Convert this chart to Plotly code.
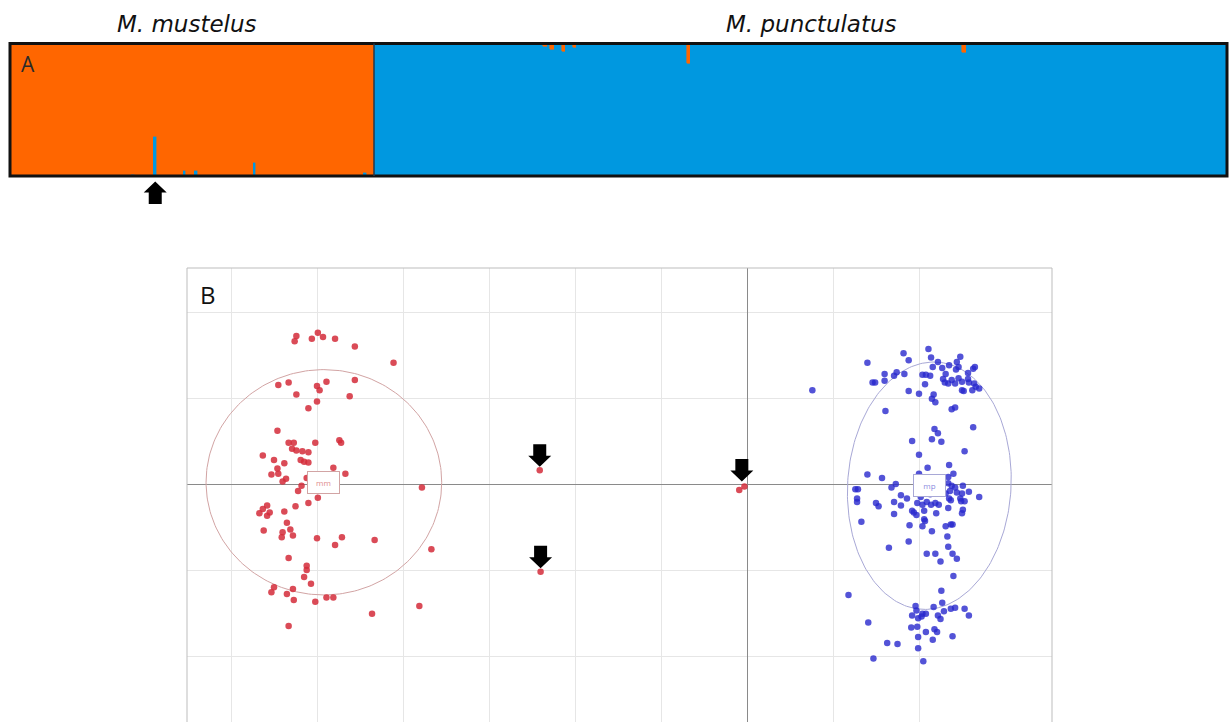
import numpy as np
import plotly.graph_objects as go

W, H = 1229, 722

# ---------------- Panel A: STRUCTURE-style membership bars ----------------
# Share of the M. punctulatus cluster in each M. mustelus individual
mustelus_q = [
    0, 0, 0, 0, 0, 0, 0, 0, 0, 0, 0, 0, 0, 0, 0, 0, 0, 0, 0, 0,
    0, 0, 0, 0, 0, 0, 0, 0, 0, 0, 0, 0, 0, 0.015, 0, 0, 0, 0, 0, 0.30,
    0, 0, 0, 0, 0, 0, 0, 0.045, 0, 0, 0.04, 0, 0, 0, 0, 0, 0, 0, 0, 0,
    0, 0, 0, 0, 0, 0, 0.10, 0, 0, 0, 0, 0, 0, 0, 0, 0, 0, 0, 0, 0,
    0, 0, 0, 0, 0, 0, 0, 0, 0, 0, 0, 0, 0, 0, 0, 0, 0.03, 0, 0,
]
# Share of the M. mustelus cluster in each M. punctulatus individual
punctulatus_q = [
    0, 0, 0, 0, 0, 0, 0, 0, 0, 0, 0, 0, 0.01, 0, 0, 0, 0, 0, 0, 0,
    0, 0, 0, 0, 0, 0, 0, 0, 0, 0, 0, 0, 0, 0, 0, 0, 0, 0, 0, 0,
    0, 0, 0, 0, 0, 0, 0.02, 0, 0.045, 0, 0, 0.06, 0, 0, 0.03, 0, 0, 0, 0, 0,
    0, 0, 0, 0, 0, 0, 0, 0, 0, 0, 0, 0, 0, 0, 0, 0, 0, 0, 0, 0,
    0, 0, 0, 0, 0, 0.15, 0, 0, 0, 0, 0, 0, 0, 0, 0, 0, 0, 0, 0, 0,
    0, 0, 0, 0, 0, 0, 0, 0, 0, 0, 0, 0, 0, 0, 0, 0, 0, 0, 0, 0,
    0, 0, 0, 0, 0, 0, 0, 0, 0, 0, 0, 0, 0, 0, 0, 0, 0, 0, 0, 0,
    0, 0, 0, 0, 0, 0, 0, 0, 0, 0, 0, 0.01, 0, 0, 0, 0, 0, 0, 0, 0,
    0.07, 0, 0, 0, 0, 0, 0, 0, 0, 0, 0, 0, 0, 0, 0, 0.01, 0, 0, 0, 0,
    0, 0, 0, 0, 0, 0, 0, 0, 0, 0, 0, 0, 0, 0, 0, 0, 0, 0, 0, 0,
    0, 0, 0, 0, 0, 0, 0, 0, 0, 0, 0, 0, 0, 0, 0, 0, 0, 0, 0, 0,
    0, 0, 0, 0, 0, 0, 0, 0, 0, 0, 0, 0,
]
species_labels = ["M. mustelus", "M. punctulatus"]

# ---------------- Panel B: individual scores on the two axes ----------------
mm_x = [
    -5.24, -5.26, -4.99, -5.06, -4.93, -4.79, -4.56, -4.11, -4.56, -5.45,
    -5.33, -5.00, -4.97, -4.89, -5.24, -4.62, -5.00, -5.10, -5.46, -5.33,
    -5.27, -5.02, -4.74, -4.72, -5.29, -5.24, -5.17, -5.10, -5.63, -5.50,
    -5.38, -5.19, -5.15, -5.10, -5.46, -4.81, -4.67, -5.53, -5.45, -5.36,
    -5.40, -5.12, -3.78, -5.18, -5.22, -4.99, -5.10, -5.25, -5.58, -5.63,
    -5.67, -5.55, -5.58, -5.38, -5.35, -5.62, -5.40, -5.31, -5.41, -5.28,
    -5.00, -4.71, -4.79, -4.33, -3.67, -5.33, -5.12, -5.12, -5.15, -5.07,
    -5.50, -5.53, -5.28, -5.35, -5.27, -5.02, -4.89, -4.81, -3.81, -4.36, -5.33,
]
mm_y = [
    1.72, 1.66, 1.76, 1.69, 1.71, 1.69, 1.60, 1.41, 1.21, 1.15,
    1.18, 1.14, 1.09, 1.19, 1.04, 1.02, 0.96, 0.88, 0.62, 0.48,
    0.48, 0.48, 0.51, 0.48, 0.41, 0.39, 0.38, 0.37, 0.33, 0.28,
    0.24, 0.28, 0.26, 0.25, 0.18, 0.19, 0.12, 0.11, 0.12, 0.06,
    0.03, 0.07, -0.04, -0.02, -0.08, -0.16, -0.22, -0.26, -0.25, -0.29,
    -0.34, -0.33, -0.37, -0.32, -0.45, -0.54, -0.56, -0.53, -0.62, -0.60,
    -0.63, -0.62, -0.71, -0.65, -0.76, -0.86, -0.95, -1.00, -1.08, -1.16,
    -1.20, -1.26, -1.22, -1.28, -1.35, -1.37, -1.32, -1.32, -1.42, -1.51, -1.65,
]
# M. mustelus individuals falling between the two clusters
flag_x = [-2.41, -2.40, -0.09, -0.03]
flag_y = [0.16, -1.02, -0.07, -0.03]
flag_groups = [[0], [1], [2, 3]]

mp_x = [
    0.76, 1.40, 1.82, 1.88, 2.11, 2.14, 2.22, 2.48, 2.44, 2.16,
    2.27, 2.35, 2.46, 2.43, 2.65, 2.63, 1.60, 1.71, 1.74, 1.83,
    2.04, 2.08, 2.13, 2.31, 2.57, 1.46, 1.49, 1.60, 2.07, 2.28,
    2.30, 2.34, 2.38, 2.42, 2.46, 2.50, 2.57, 2.58, 2.64, 2.50,
    2.52, 2.62, 2.70, 2.66, 1.88, 2.00, 2.17, 2.15, 2.19, 1.61,
    2.38, 2.42, 2.63, 2.18, 2.22, 2.15, 2.26, 1.92, 2.53, 2.00,
    2.35, 2.10, 1.40, 1.57, 2.40, 2.34, 2.00, 1.73, 1.68, 2.34,
    2.38, 2.51, 2.42, 1.26, 1.29, 2.58, 2.31, 2.36, 2.44, 2.50,
    1.79, 2.02, 2.13, 1.28, 1.28, 1.50, 1.53, 1.71, 1.79, 1.86,
    1.98, 2.04, 2.09, 2.14, 2.19, 2.23, 2.35, 2.37, 2.48, 2.49,
    2.53, 2.70, 1.92, 1.94, 1.97, 2.06, 2.20, 2.34, 2.51, 2.50,
    1.71, 1.33, 1.89, 2.06, 2.07, 2.31, 2.37, 2.04, 2.39, 2.15,
    2.33, 1.88, 1.65, 2.34, 2.09, 2.19, 2.39, 2.25, 2.44, 2.40,
    1.18, 2.26, 2.27, 1.96, 2.17, 1.97, 2.29, 2.37, 2.42, 2.53,
    2.58, 1.92, 2.04, 2.08, 1.99, 2.03, 2.22, 2.25, 1.41, 1.91,
    1.98, 2.18, 2.21, 2.08, 1.99, 2.16, 2.39, 1.63, 1.75, 1.99,
    1.47, 2.05,
]
mp_y = [
    1.09, 1.41, 1.52, 1.44, 1.57, 1.47, 1.42, 1.48, 1.42, 1.36,
    1.35, 1.38, 1.36, 1.33, 1.36, 1.34, 1.28, 1.26, 1.30, 1.28,
    1.27, 1.27, 1.26, 1.28, 1.29, 1.18, 1.18, 1.20, 1.16, 1.22,
    1.18, 1.17, 1.21, 1.17, 1.23, 1.19, 1.22, 1.18, 1.17, 1.09,
    1.08, 1.09, 1.11, 1.13, 1.08, 1.05, 1.04, 0.99, 0.95, 0.85,
    0.87, 0.89, 0.66, 0.64, 0.59, 0.52, 0.49, 0.50, 0.38, 0.34,
    0.22, 0.19, 0.11, 0.07, 0.12, 0.08, 0.12, 0.00, -0.04, 0.01,
    -0.02, -0.02, -0.04, -0.06, -0.06, -0.09, -0.11, -0.08, -0.10, -0.11,
    -0.13, -0.15, -0.12, -0.17, -0.21, -0.22, -0.26, -0.21, -0.25, -0.17,
    -0.22, -0.24, -0.21, -0.24, -0.22, -0.24, -0.17, -0.19, -0.17, -0.20,
    -0.20, -0.15, -0.31, -0.33, -0.36, -0.31, -0.34, -0.28, -0.30, -0.34,
    -0.35, -0.44, -0.48, -0.41, -0.43, -0.49, -0.47, -0.49, -0.47, -0.55,
    -0.61, -0.67, -0.74, -0.73, -0.81, -0.81, -0.81, -0.90, -0.87, -1.07,
    -1.29, -1.24, -1.38, -1.42, -1.43, -1.47, -1.48, -1.45, -1.44, -1.45,
    -1.53, -1.53, -1.51, -1.51, -1.56, -1.54, -1.53, -1.57, -1.61, -1.67,
    -1.66, -1.69, -1.72, -1.72, -1.78, -1.81, -1.77, -1.85, -1.86, -1.91,
    -2.03, -2.06,
]

# Group centres and inertia ellipses: centre x, centre y, half-width, half-height, tilt (deg)
group_names = ["mm", "mp"]
ellipse_cx = [-4.92, 2.12]
ellipse_cy = [0.02, -0.02]
ellipse_rx = [1.37, 0.95]
ellipse_ry = [1.31, 1.44]
ellipse_tilt = [0.0, -3.7]

ORANGE = "#ff6600"
BLUE = "#0098e0"
RED_PT = "rgba(212,44,58,0.85)"
BLUE_PT = "rgba(40,40,205,0.8)"
ELL_COL = ["#d2a4a4", "#a8a8d6"]
LAB_COL = ["#e08c8c", "#8c8ce0"]

# Layout boxes (paper fractions)
A_X = [10 / W, 1227 / W]
A_Y = [(H - 176) / H, (H - 43.5) / H]
B_X = [187 / W, 1052 / W]
B_Y = [0.0, (H - 268) / H]
UNIT_PX = 86.0  # pixels per grid step in panel B

n_mm, n_mp = len(mustelus_q), len(punctulatus_q)
n_all = n_mm + n_mp
blue_share = list(mustelus_q) + [1 - q for q in punctulatus_q]
orange_share = [1 - b for b in blue_share]
ind = list(range(n_all))

fig = go.Figure()
fig.add_trace(go.Bar(x=ind, y=blue_share, marker=dict(color=BLUE, line=dict(color=BLUE, width=0.6)),
                     xaxis="x2", yaxis="y2", showlegend=False, hoverinfo="skip"))
fig.add_trace(go.Bar(x=ind, y=orange_share, marker=dict(color=ORANGE, line=dict(color=ORANGE, width=0.6)),
                     xaxis="x2", yaxis="y2", showlegend=False, hoverinfo="skip"))

# ellipses
for i in range(2):
    t = np.linspace(0, 2 * np.pi, 241)
    phi = np.deg2rad(ellipse_tilt[i])
    ex = ellipse_rx[i] * np.cos(t)
    ey = ellipse_ry[i] * np.sin(t)
    fig.add_trace(go.Scatter(
        x=ellipse_cx[i] + ex * np.cos(phi) - ey * np.sin(phi),
        y=ellipse_cy[i] + ex * np.sin(phi) + ey * np.cos(phi),
        mode="lines", line=dict(color=ELL_COL[i], width=1),
        showlegend=False, hoverinfo="skip"))

fig.add_trace(go.Scatter(x=mm_x + flag_x, y=mm_y + flag_y, mode="markers",
                         marker=dict(size=6.5, color=RED_PT, line=dict(width=0)),
                         showlegend=False, name="mm"))
fig.add_trace(go.Scatter(x=mp_x, y=mp_y, mode="markers",
                         marker=dict(size=6.5, color=BLUE_PT, line=dict(width=0)),
                         showlegend=False, name="mp"))


def block_arrow(xt, yt, ux, uy, s):
    """Solid block arrow with its tip at (xt, yt); s=+1 body above tip, s=-1 body below."""
    hw, sw, hh, ln = 11.5 * ux, 6.5 * ux, 11 * uy, 22.5 * uy
    pts = [(xt, yt), (xt - hw, yt + s * hh), (xt - sw, yt + s * hh), (xt - sw, yt + s * ln),
           (xt + sw, yt + s * ln), (xt + sw, yt + s * hh), (xt + hw, yt + s * hh)]
    return "M " + " L ".join(f"{x:.5f},{y:.5f}" for x, y in pts) + " Z"


shapes = []
# panel A frame and species divider
shapes.append(dict(type="rect", xref="x2 domain", yref="y2 domain", x0=0, x1=1, y0=0, y1=1,
                   line=dict(color="#111111", width=3), fillcolor="rgba(0,0,0,0)"))
shapes.append(dict(type="line", xref="x2", yref="y2 domain", x0=n_mm - 0.5, x1=n_mm - 0.5, y0=0, y1=1,
                   line=dict(color="#26384a", width=1.5)))

# arrow under the most admixed M. mustelus individual
k = int(np.argmax(mustelus_q))
ax_tip = A_X[0] + (k + 0.5) / n_all * (A_X[1] - A_X[0])
shapes.append(dict(type="path", xref="paper", yref="paper",
                   path=block_arrow(ax_tip, A_Y[0] - 5.5 / H, 1 / W, 1 / H, -1),
                   fillcolor="black", line=dict(width=0)))

# arrows over the intermediate individuals in panel B
u = 1 / UNIT_PX
for grp in flag_groups:
    gx = float(np.mean([flag_x[j] for j in grp]))
    gy = max(flag_y[j] for j in grp) + (3.5 if len(grp) == 1 else 5.0) * u
    shapes.append(dict(type="path", xref="x", yref="y", path=block_arrow(gx, gy, u, u, 1),
                       fillcolor="black", line=dict(width=0)))

# panel B frame (left, top, right)
for (x0, y0, x1, y1) in [(0, 0, 0, 1), (0, 1, 1, 1), (1, 0, 1, 1)]:
    shapes.append(dict(type="line", xref="x domain", yref="y domain", x0=x0, y0=y0, x1=x1, y1=y1,
                       line=dict(color="#bdbdbd", width=1)))

TITLE_FONT = dict(family="DejaVu Sans", size=23, color="#111111")
annotations = [
    dict(text="<i>" + species_labels[0] + "</i>", x=186.5 / W, y=(H - 24) / H, xref="paper", yref="paper",
         xanchor="center", yanchor="middle", showarrow=False, font=TITLE_FONT),
    dict(text="<i>" + species_labels[1] + "</i>", x=811 / W, y=(H - 24) / H, xref="paper", yref="paper",
         xanchor="center", yanchor="middle", showarrow=False, font=TITLE_FONT),
    dict(text="A", x=28.3 / W, y=(H - 64) / H, xref="paper", yref="paper", showarrow=False,
         xanchor="center", yanchor="middle", font=dict(family="Open Sans", size=21, color="#2a2a2a")),
    dict(text="B", x=208 / W, y=(H - 294) / H, xref="paper", yref="paper", showarrow=False,
         xanchor="center", yanchor="middle", font=dict(family="Open Sans", size=24, color="#111111")),
]
for i in range(2):
    annotations.append(dict(text=group_names[i], x=ellipse_cx[i], y=ellipse_cy[i], xref="x", yref="y",
                            showarrow=False, font=dict(family="Open Sans", size=8, color=LAB_COL[i]),
                            bgcolor="white", bordercolor=ELL_COL[i], borderwidth=1, borderpad=1,
                            width=29, height=19))

x_lo = (B_X[0] * W - 747) / UNIT_PX
x_hi = (B_X[1] * W - 747) / UNIT_PX
y_hi = (484 - 268) / UNIT_PX
y_lo = (484 - H) / UNIT_PX

fig.update_layout(
    width=W, height=H, margin=dict(l=0, r=0, t=0, b=0),
    paper_bgcolor="white", plot_bgcolor="white",
    barmode="stack", bargap=0,
    xaxis=dict(domain=B_X, range=[x_lo, x_hi], tickvals=list(range(-6, 3)), showgrid=True,
               gridcolor="#e6e6e6", gridwidth=1, zeroline=True, zerolinecolor="#8a8a8a",
               zerolinewidth=1.3, showticklabels=False, ticks="", showline=False, fixedrange=True),
    yaxis=dict(domain=B_Y, range=[y_lo, y_hi], tickvals=[-2, -1, 0, 1, 2], showgrid=True,
               gridcolor="#e6e6e6", gridwidth=1, zeroline=True, zerolinecolor="#8a8a8a",
               zerolinewidth=1.3, showticklabels=False, ticks="", showline=False, fixedrange=True),
    xaxis2=dict(domain=A_X, range=[-0.5, n_all - 0.5], visible=False, anchor="y2"),
    yaxis2=dict(domain=A_Y, range=[0, 1], visible=False, anchor="x2"),
    shapes=shapes, annotations=annotations,
)

fig.write_html("out.html")
